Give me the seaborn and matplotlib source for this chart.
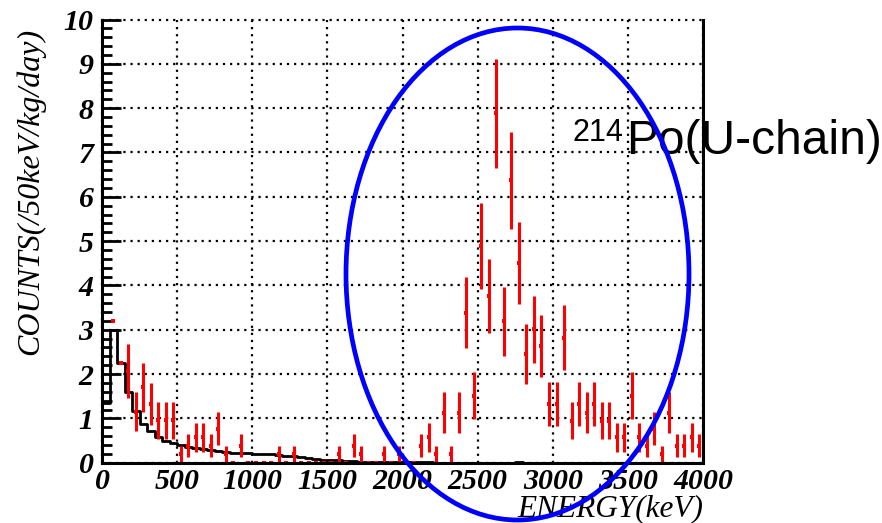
import numpy as np
import pandas as pd
import matplotlib
matplotlib.use("Agg")
import matplotlib.pyplot as plt
import seaborn as sns
from matplotlib.patches import Ellipse
from matplotlib.ticker import MultipleLocator

# ---------------- data ----------------
bin_edges = np.arange(0, 4050, 50)          # 50 keV bins, 0..4000 keV
bin_centers = bin_edges[:-1] + 25

# measured spectrum (counts / 50 keV / kg / day); NaN = no point drawn
data_values = [np.nan, 3.19, 2.26, 2.07, 1.15, 1.70, 1.32, 0.96, 0.96, 0.96,
               0.19, 0.38, 0.57, 0.57, 0.38, 0.77, 0.19, 0.00, 0.38, 0.00,
               0.00, 0.00, 0.00, 0.19, 0.00, 0.19, 0.00, 0.00, 0.00, 0.00,
               0.00, 0.19, 0.00, 0.38, 0.19, 0.00, 0.00, 0.19, 0.00, 0.19,
               0.00, 0.00, 0.38, 0.57, 0.19, 1.13, 0.19, 1.13, 3.38, 1.51,
               4.89, 3.76, 7.88, 3.19, 6.37, 4.50, 2.45, 3.01, 2.64, 1.32,
               1.32, 2.82, 0.95, 1.32, 1.13, 1.32, 0.95, 0.95, 0.57, 0.57,
               1.51, 0.57, 0.38, 0.77, 0.19, 1.13, 0.38, 0.38, 0.57, 0.38]
data_errors = [0.00, 0.00, 0.00, 0.61, 0.44, 0.55, 0.48, 0.42, 0.42, 0.42,
               0.19, 0.26, 0.32, 0.32, 0.26, 0.37, 0.19, 0.00, 0.26, 0.00,
               0.00, 0.00, 0.00, 0.19, 0.00, 0.19, 0.00, 0.00, 0.00, 0.00,
               0.00, 0.19, 0.00, 0.26, 0.19, 0.00, 0.00, 0.19, 0.00, 0.19,
               0.00, 0.00, 0.26, 0.32, 0.19, 0.46, 0.19, 0.46, 0.80, 0.53,
               0.96, 0.84, 1.22, 0.78, 1.09, 0.92, 0.68, 0.75, 0.70, 0.50,
               0.50, 0.73, 0.42, 0.50, 0.46, 0.50, 0.42, 0.42, 0.32, 0.32,
               0.53, 0.32, 0.26, 0.37, 0.19, 0.46, 0.26, 0.26, 0.32, 0.26]

# simulated background histogram
mc_values = [1.34, 3.00, 2.26, 1.60, 1.16, 0.87, 0.71, 0.59, 0.50, 0.44,
             0.40, 0.36, 0.33, 0.30, 0.28, 0.26, 0.24, 0.23, 0.22, 0.21,
             0.20, 0.20, 0.19, 0.18, 0.16, 0.14, 0.13, 0.11, 0.09, 0.07,
             0.06, 0.05, 0.04, 0.03, 0.02, 0.02, 0.01, 0.01, 0.01, 0.01,
             0.02, 0.02, 0.02, 0.01, 0.00, 0.00, 0.00, 0.00, 0.00, 0.00,
             0.00, 0.00, 0.00, 0.00, 0.00, 0.02, 0.00, 0.00, 0.00, 0.00,
             0.00, 0.00, 0.00, 0.00, 0.00, 0.00, 0.00, 0.00, 0.00, 0.00,
             0.00, 0.00, 0.00, 0.00, 0.00, 0.00, 0.00, 0.00, 0.00, 0.00]

x_ticks = [0, 500, 1000, 1500, 2000, 2500, 3000, 3500, 4000]
y_ticks = [0, 1, 2, 3, 4, 5, 6, 7, 8, 9, 10]

df = pd.DataFrame({"energy": bin_centers, "counts": data_values,
                   "err": data_errors, "mc": mc_values})

# ---------------- figure ----------------
sns.set_theme(style="white")
plt.rcParams["font.family"] = ["Liberation Serif", "DejaVu Serif"]
plt.rcParams["text.color"] = "black"
plt.rcParams["xtick.color"] = "black"
plt.rcParams["ytick.color"] = "black"
plt.rcParams["axes.labelcolor"] = "black"

W, H = 882, 523
fig = plt.figure(figsize=(W / 100, H / 100), dpi=100)
ax = fig.add_axes([102 / W, 1 - 462.7 / H, (703 - 102) / W, (462.7 - 19.5) / H])

sns.histplot(data=df, x="energy", weights="mc", binwidth=50, binrange=(0, 4000),
             element="step", fill=False, color="black", linewidth=2, ax=ax,
             zorder=3)

pts = df.dropna(subset=["counts"])
ax.errorbar(pts["energy"], pts["counts"], yerr=pts["err"], fmt="none",
            ecolor="#ff0000", elinewidth=2.2, capsize=0, zorder=4)
sns.scatterplot(data=pts, x="energy", y="counts", color="#ff0000", marker="s",
                s=7, linewidth=0, ax=ax, zorder=5, clip_on=False)

ax.set_xlim(0, 4000)
ax.set_ylim(0, 10)
ax.set_xticks(x_ticks)
ax.set_yticks(y_ticks)
ax.yaxis.set_minor_locator(MultipleLocator(0.2))
ax.set_xlabel("")
ax.set_ylabel("")

ax.grid(True, which="major", color="black", linestyle=(0, (1, 2.2)), linewidth=1.6)
for gl in ax.get_xgridlines() + ax.get_ygridlines():
    gl.set_clip_on(False)

for side in ["left", "bottom", "right"]:
    ax.spines[side].set_visible(True)
    ax.spines[side].set_color("black")
    ax.spines[side].set_linewidth(2.2)
    ax.spines[side].set_zorder(6)
ax.spines["top"].set_visible(False)

ax.tick_params(axis="y", which="major", direction="in", length=14, width=2,
               pad=6, labelsize=21.5, left=True, right=False, labelcolor="black")
ax.tick_params(axis="y", which="minor", direction="in", length=7, width=2,
               left=True, right=False)
ax.tick_params(axis="x", which="both", length=0, pad=4, labelsize=21.5,
               labelcolor="black")
for lbl in ax.get_xticklabels() + ax.get_yticklabels():
    lbl.set_fontweight("bold")
    lbl.set_fontstyle("italic")

fig.text(30 / W, 1 - 28 / H, "COUNTS(/50keV/kg/day)", rotation=90,
         ha="center", va="top", fontsize=23, fontstyle="italic", color="black")
fig.text(703 / W, 1 - 516.5 / H, "ENERGY(keV)", ha="right", va="baseline",
         fontsize=22.5, fontstyle="italic", color="black")

fig.text(623 / W, 1 - 141 / H, "214", ha="right", va="baseline",
         fontsize=22, color="black", family=["Liberation Sans", "DejaVu Sans"])
fig.text(626 / W, 1 - 154 / H, "Po(U-chain)", ha="left", va="baseline",
         fontsize=34.5, color="black", family=["Liberation Sans", "DejaVu Sans"])

ell = Ellipse((517.5 / W, 1 - 274 / H), width=343 / W, height=492 / H,
              transform=fig.transFigure, fill=False, edgecolor="#0000ff",
              linewidth=3.4, clip_on=False, zorder=10)
fig.add_artist(ell)

fig.savefig("out.png", dpi=100)
